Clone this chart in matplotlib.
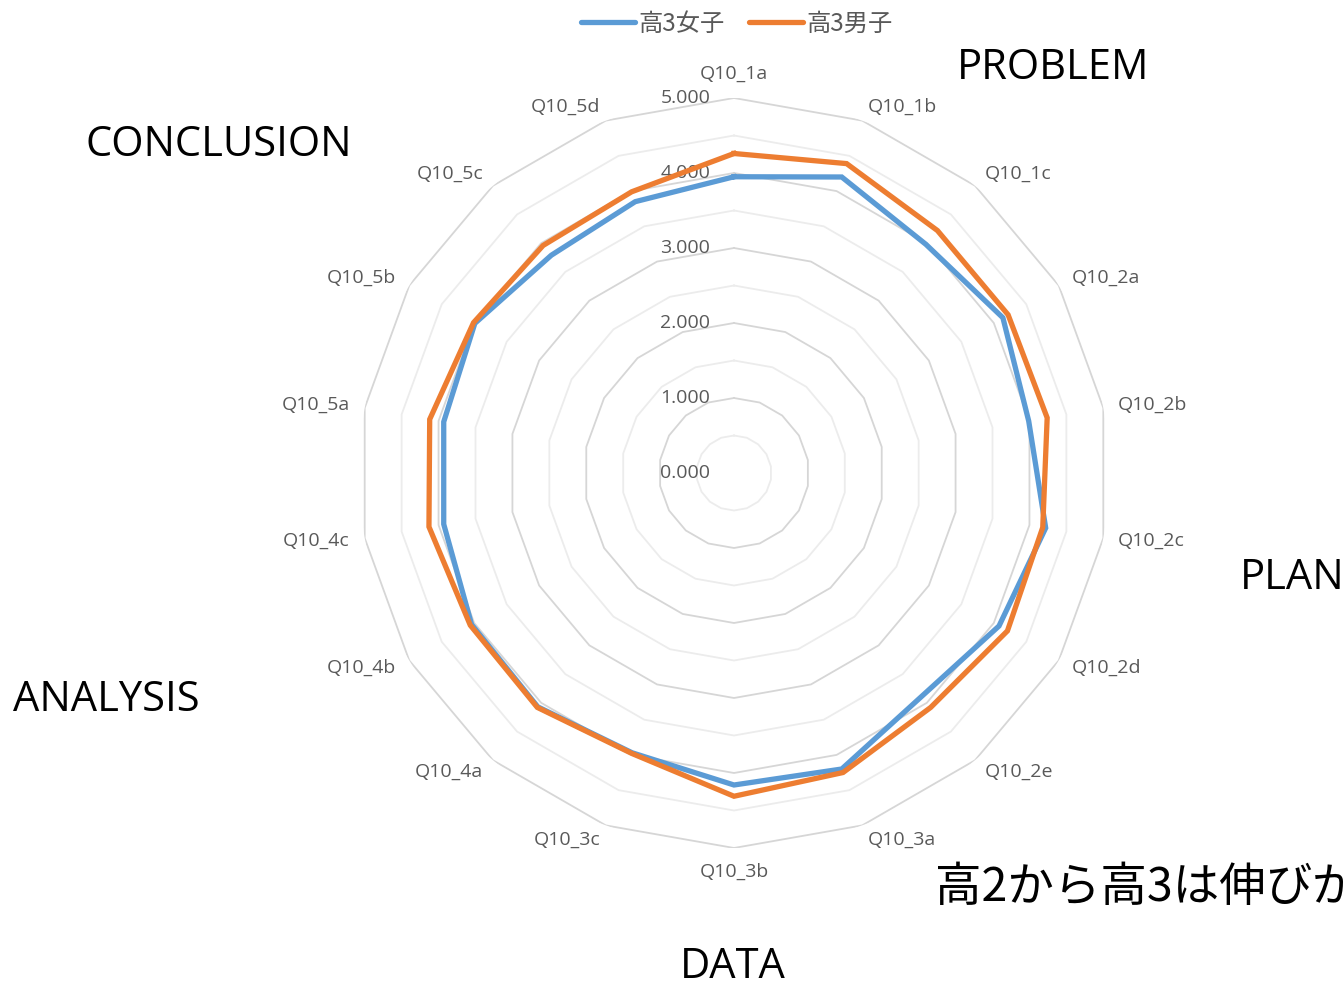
"""Radar chart of Q10 item means for third-year girls vs boys."""

import numpy as np
import matplotlib

matplotlib.use("Agg")
import matplotlib.pyplot as plt
from matplotlib.lines import Line2D

LATIN = ["Open Sans", "DejaVu Sans"]
JP = ["Noto Sans CJK JP", "DejaVu Sans"]
plt.rcParams["font.family"] = LATIN

CATEGORIES = [
    "Q10_1a", "Q10_1b", "Q10_1c", "Q10_2a", "Q10_2b", "Q10_2c",
    "Q10_2d", "Q10_2e", "Q10_3a", "Q10_3b", "Q10_3c", "Q10_4a",
    "Q10_4b", "Q10_4c", "Q10_5a", "Q10_5b", "Q10_5c", "Q10_5d",
]
GIRLS = [3.95, 4.20, 3.98, 4.14, 3.99, 4.22, 4.08, 3.89, 4.20,
         4.16, 3.97, 4.07, 4.04, 3.93, 3.93, 3.99, 3.79, 3.85]
BOYS = [4.26, 4.39, 4.22, 4.22, 4.24, 4.18, 4.21, 4.08, 4.25,
        4.31, 3.98, 4.08, 4.06, 4.13, 4.12, 4.01, 3.96, 3.99]
SERIES_NAMES = ["高3女子", "高3男子"]
MAJOR_LEVELS = [1, 2, 3, 4, 5]
MINOR_LEVELS = [0.5, 1.5, 2.5, 3.5, 4.5]
TICK_LABELS = [0, 1, 2, 3, 4, 5]

BLUE = "#5B9BD5"
ORANGE = "#ED7D31"

W, H = 1344, 986
fig = plt.figure(figsize=(W / 100, H / 100), dpi=100)

cx, cy, rad = 734, 473, 375
ax = fig.add_axes(
    [(cx - rad) / W, (H - cy - rad) / H, 2 * rad / W, 2 * rad / H],
    projection="polar",
)
ax.set_theta_zero_location("N")
ax.set_theta_direction(-1)
ax.set_ylim(0, 5)
ax.grid(False)
ax.set_xticks([])
ax.set_yticks([])
ax.spines["polar"].set_visible(False)
ax.patch.set_alpha(0)

n = len(CATEGORIES)
angles = np.linspace(0, 2 * np.pi, n, endpoint=False)
closed = np.append(angles, angles[0])

# polygon rings instead of circular grid
for lvl in MINOR_LEVELS:
    ax.plot(closed, [lvl] * (n + 1), color="#ececec", lw=1.3, zorder=1)
for lvl in MAJOR_LEVELS:
    ax.plot(closed, [lvl] * (n + 1), color="#d6d6d6", lw=1.3, zorder=1)

for vals, color in zip([GIRLS, BOYS], [BLUE, ORANGE]):
    ax.plot(closed, vals + vals[:1], color=color, lw=3.8,
            solid_joinstyle="miter", zorder=3)

# radial value labels left of the top spoke
for v in TICK_LABELS:
    ax.annotate(f"{v:.3f}", xy=(0, v), xytext=(-17, 0),
                textcoords="offset points", ha="right", va="center",
                fontsize=14, color="#595959", zorder=2)

# category labels around the outer ring
for ang, name in zip(angles, CATEGORIES):
    s, c = np.sin(ang), np.cos(ang)
    ha = "left" if s > 0.1 else ("right" if s < -0.1 else "center")
    va = "center"
    if abs(s) <= 0.1:
        va = "bottom" if c > 0 else "top"
    ax.text(ang, 5.2, name, ha=ha, va=va, fontsize=14, color="#595959")

handles = [Line2D([], [], color=BLUE, lw=3.8, solid_capstyle="round"),
           Line2D([], [], color=ORANGE, lw=3.8, solid_capstyle="round")]
fig.legend(handles, SERIES_NAMES, loc="center", ncol=2, frameon=False,
           bbox_to_anchor=(737 / W, 1 - 24 / H), handlelength=2.2,
           handletextpad=0.15, columnspacing=1.0,
           prop={"family": JP, "size": 17.5}, labelcolor="#595959")

# stage names around the chart
big = dict(fontsize=30, color="black", va="center")
fig.text(957 / W, 1 - 68 / H, "PROBLEM", ha="left", **big)
fig.text(85 / W, 1 - 145 / H, "CONCLUSION", ha="left", **big)
fig.text(1240 / W, 1 - 578 / H, "PLAN", ha="left", **big)
fig.text(13 / W, 1 - 700 / H, "ANALYSIS", ha="left", **big)
fig.text(733 / W, 1 - 967 / H, "DATA", ha="center", **big)
fig.text(935 / W, 1 - 888 / H, "高2から高3は伸びが小さい", ha="left",
         fontsize=33.5, color="black", va="center", family=JP)

fig.savefig("out.png", dpi=100)
